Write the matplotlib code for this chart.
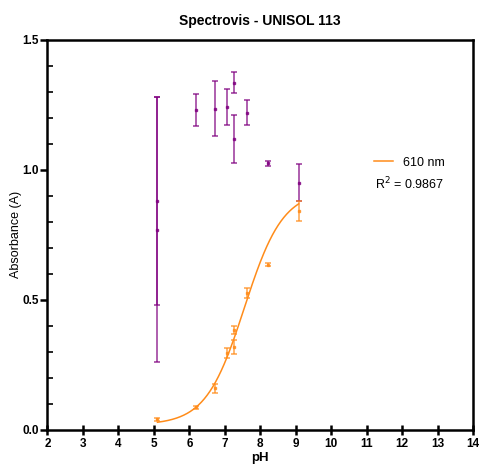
import numpy as np
import matplotlib.pyplot as plt
from matplotlib.ticker import MultipleLocator

plt.rcParams['font.family'] = ['Liberation Sans', 'DejaVu Sans']

# purple series (pH, absorbance, error)
purple_ph = [5.10, 5.10, 6.18, 6.72, 7.05, 7.26, 7.26, 7.61, 8.21, 9.08]
purple_abs = [0.88, 0.77, 1.23, 1.236, 1.241, 1.336, 1.118, 1.22, 1.026, 0.951]
purple_err = [0.40, 0.51, 0.062, 0.104, 0.069, 0.042, 0.092, 0.048, 0.010, 0.072]

# orange series, 610 nm
orange_ph = [5.10, 6.18, 6.72, 7.05, 7.27, 7.27, 7.61, 8.21, 9.08]
orange_abs = [0.041, 0.087, 0.160, 0.295, 0.320, 0.385, 0.526, 0.635, 0.842]
orange_err = [0.006, 0.005, 0.018, 0.020, 0.027, 0.015, 0.020, 0.006, 0.037]

# sigmoid fit parameters (bottom, top, pKa, hill)
fit_bottom, fit_top, fit_pka, fit_hill = 0.02, 0.92, 7.55, 0.8

purple = '#800080'
orange = '#FF8C1A'

fig = plt.figure(figsize=(4.86, 4.65), dpi=100)
ax = fig.add_axes([0.0977, 0.0753, 0.876, 0.839])

ax.errorbar(purple_ph, purple_abs, yerr=purple_err, fmt='s', ms=1.8,
            color=purple, ecolor=purple, elinewidth=1.1, capsize=2.3,
            capthick=1.1, alpha=0.8, zorder=3)
ax.errorbar(orange_ph, orange_abs, yerr=orange_err, fmt='s', ms=1.8,
            color=orange, ecolor=orange, elinewidth=1.1, capsize=2.3,
            capthick=1.1, alpha=0.8, zorder=3)

xf = np.linspace(min(orange_ph), max(orange_ph), 200)
yf = fit_bottom + (fit_top - fit_bottom) / (1 + 10 ** ((fit_pka - xf) * fit_hill))
ax.plot(xf, yf, color=orange, lw=1.1, label='610 nm', zorder=2)

ax.set_xlim(2, 14)
ax.set_ylim(0, 1.5)
ax.set_xticks(range(2, 15))
ax.set_yticks([0, 0.5, 1.0, 1.5])
ax.set_yticklabels(['0.0', '0.5', '1.0', '1.5'])
ax.yaxis.set_minor_locator(MultipleLocator(0.1))

for s in ax.spines.values():
    s.set_linewidth(1.8)
ax.tick_params(axis='x', direction='inout', length=7, width=1.8,
               labelsize=8.5, pad=2)
ax.tick_params(axis='y', which='major', direction='out', length=5, width=1.8,
               labelsize=8.5, pad=1)
ax.tick_params(axis='y', which='minor', direction='in', length=4, width=1.2)
for lab in ax.get_xticklabels() + ax.get_yticklabels():
    lab.set_fontweight('bold')

ax.set_xlabel('pH', fontsize=9.5, fontweight='bold', labelpad=2)
ax.set_ylabel('Absorbance (A)', fontsize=9)
ax.yaxis.set_label_coords(-0.06, 0.5)
fig.text(0.535, 0.955, 'Spectrovis - UNISOL 113', ha='center', va='center',
         fontsize=10, fontweight='bold')

ax.legend(loc='center left', bbox_to_anchor=(0.768, 0.685), frameon=False,
          fontsize=9, handlelength=1.5, handletextpad=0.8, borderpad=0,
          borderaxespad=0)
ax.text(0.77, 0.631, r'R$^2$ = 0.9867', transform=ax.transAxes, fontsize=9,
        va='center')

fig.savefig('out.png', dpi=100)
